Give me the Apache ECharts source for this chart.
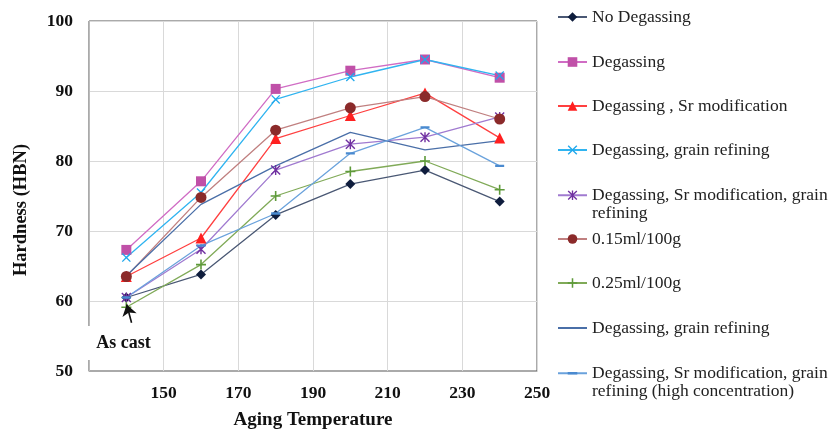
<!DOCTYPE html>
<html>
<head>
<meta charset="utf-8">
<script src="https://cdn.jsdelivr.net/npm/echarts@6/dist/echarts.min.js"></script>
<style>
  html, body { margin: 0; padding: 0; background: #fff; }
  #chart { width: 832px; height: 435px; }
</style>
</head>
<body>
<div id="chart"></div>
<script>
// aging temperature (x) and hardness values (HBN)
const temps = [140, 160, 180, 200, 220, 240]
const xTicks = [150, 170, 190, 210, 230, 250]
const noDegassing = [60.5, 63.8, 72.3, 76.7, 78.7, 74.2]
const degassing = [67.3, 77.1, 90.3, 92.9, 94.5, 91.9]
const degassingSr = [63.5, 69.0, 83.2, 86.5, 89.7, 83.3]
const degassingGR = [66.2, 75.5, 88.8, 92.0, 94.5, 92.2]
const degassingSrGR = [60.5, 67.4, 78.7, 82.4, 83.4, 86.3]
const h015 = [63.5, 74.8, 84.4, 87.6, 89.2, 86.0]
const h025 = [59.1, 65.2, 75.0, 78.5, 80.0, 75.9]
const degassingGR2 = [63.6, 73.8, 79.3, 84.1, 81.6, 82.9]
const degassingSrGRHigh = [60.5, 67.9, 72.5, 81.1, 84.8, 79.3]

const serif = '"Liberation Serif", "DejaVu Serif", serif'

const xPath = 'path://M0,1 L1,0 L5,4 L9,0 L10,1 L6,5 L10,9 L9,10 L5,6 L1,10 L0,9 L4,5 Z'
const plusPath = 'path://M4.2,0 H5.8 V4.2 H10 V5.8 H5.8 V10 H4.2 V5.8 H0 V4.2 H4.2 Z'
const starPath = 'path://M0,1 L1,0 L5,4 L9,0 L10,1 L6,5 L10,9 L9,10 L5,6 L1,10 L0,9 L4,5 Z M4.3,0 H5.7 V10 H4.3 Z'
// short dash; the two specks stretch the box so it stays flat when scaled square
const dashPath = 'path://M0,0 L0.01,0 L0,0.01 Z M0,3.7 H10 V6.3 H0 Z M9.99,10 L10,10 L10,9.99 Z'

const pairs = vals => temps.map((t, i) => [t, vals[i]])

// name, data, line colour, marker colour, symbol, size, legend top, two-line?
const defs = [
  ['No Degassing', noDegassing, '#4a5874', '#0f1d3d', 'diamond', 10, 7.5, false],
  ['Degassing', degassing, '#d06cc4', '#c050a8', 'rect', 10, 52.5, false],
  ['Degassing , Sr modification', degassingSr, '#ff4040', '#ff2020', 'triangle', 11, 96.5, false],
  ['Degassing, grain refining', degassingGR, '#30b4f0', '#20a8ec', xPath, 9, 140.5, false],
  ['Degassing, Sr modification, grain\nrefining', degassingSrGR, '#a07ad0', '#7030a0', starPath, 10, 167.5, true],
  ['0.15ml/100g', h015, '#c08080', '#8b2a2a', 'circle', 11, 229.5, false],
  ['0.25ml/100g', h025, '#80aa58', '#5e9a3a', plusPath, 10, 273.5, false],
  ['Degassing, grain refining ', degassingGR2, '#4a6fa8', '#4a6fa8', 'circle', 0, 318.5, false],
  ['Degassing, Sr modification, grain\nrefining (high concentration)', degassingSrGRHigh, '#6aa2dc', '#4a8ad0', dashPath, 9, 345.5, true]
]

const series = defs.map(d => ({
  name: d[0],
  type: 'line',
  data: pairs(d[1]),
  symbol: d[4],
  symbolSize: d[5],
  showSymbol: d[5] !== 0,
  lineStyle: { color: d[2], width: 1.3 },
  itemStyle: { color: d[3] },
  animation: false
}))

// the "As cast" note with its arrow, anchored in data space
series[0].markLine = {
  silent: true,
  symbol: ['none', 'arrow'],
  symbolSize: 11,
  label: { show: false },
  lineStyle: { color: '#111', width: 1.6, type: 'solid' },
  data: [[{ coord: [141.4, 56.9] }, { coord: [140.1, 59.5] }]]
}
series[0].markPoint = {
  silent: true,
  symbol: 'rect',
  symbolSize: 1,
  itemStyle: { color: 'rgba(0,0,0,0)' },
  label: {
    show: true,
    position: 'inside',
    formatter: 'As cast',
    fontFamily: serif,
    fontWeight: 'bold',
    fontSize: 18,
    color: '#111',
    backgroundColor: '#fff',
    padding: [8, 9, 8, 11]
  },
  data: [{ coord: [139.0, 54.0] }]
}

const legends = defs.map((d, i) => ({
  orient: 'vertical',
  left: 557,
  top: d[6],
  padding: 0,
  itemWidth: 29,
  itemHeight: 12,
  itemGap: 0,
  selectedMode: false,
  // the plain steel-blue series has no marker, so hide it in its key too
  data: [i === 7 ? { name: d[0], itemStyle: { opacity: 0 } } : d[0]],
  // a blank first line keeps the key symbol level with the first text line
  formatter: d[7] ? name => ' \n' + name : null,
  textStyle: {
    fontFamily: serif,
    fontSize: 17.5,
    color: '#222',
    lineHeight: d[7] ? 18.5 : 19
  }
}))

const chart = echarts.init(document.getElementById('chart'))
chart.setOption({
  backgroundColor: '#fff',
  legend: legends,
  grid: {
    left: 89, right: 295, top: 21, bottom: 62,
    show: true, borderColor: '#555', borderWidth: 1
  },
  xAxis: {
    type: 'value',
    min: 130, max: 250, interval: 20,
    name: 'Aging Temperature',
    nameLocation: 'middle',
    nameGap: 40,
    nameTextStyle: { fontFamily: serif, fontWeight: 'bold', fontSize: 19, color: '#111' },
    axisLine: { lineStyle: { color: '#aaa' } },
    axisTick: { show: false },
    axisLabel: {
      margin: 13,
      fontFamily: serif, fontWeight: 'bold', fontSize: 17.5, color: '#111',
      formatter: v => (xTicks.includes(v) ? String(v) : '')
    },
    splitLine: { show: true, lineStyle: { color: '#d9d9d9' } }
  },
  yAxis: {
    type: 'value',
    min: 50, max: 100, interval: 10,
    name: 'Hardness (HBN)',
    nameLocation: 'middle',
    nameGap: 58,
    nameTextStyle: {
      fontFamily: serif, fontWeight: 'bold', fontSize: 18.5, color: '#111',
      padding: [0, 28, 0, 0]
    },
    axisLine: { show: true, lineStyle: { color: '#bbb' } },
    axisTick: { show: false },
    axisLabel: { margin: 16, fontFamily: serif, fontWeight: 'bold', fontSize: 17.5, color: '#111' },
    splitLine: { show: true, lineStyle: { color: '#d9d9d9' } }
  },
  series: series
})
</script>
</body>
</html>
